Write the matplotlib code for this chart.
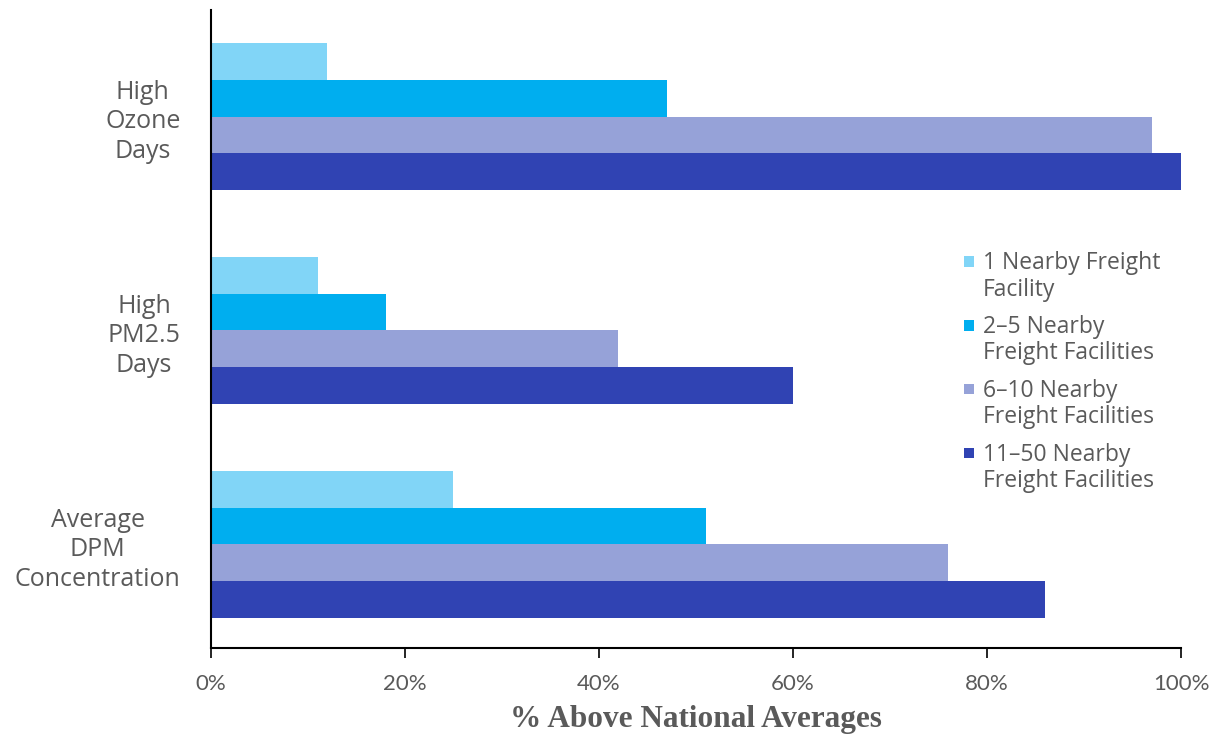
import numpy as np
import matplotlib
matplotlib.use('Agg')
from matplotlib import pyplot as plt
from matplotlib.patches import Rectangle
from matplotlib.container import BarContainer
from matplotlib.legend_handler import HandlerPatch
from matplotlib.ticker import FuncFormatter

categories = ['High\nOzone\nDays', 'High\nPM2.5\nDays', 'Average\nDPM\nConcentration']
series_labels = ['1 Nearby Freight\nFacility',
                 '2\u20135 Nearby\nFreight Facilities',
                 '6\u201310 Nearby\nFreight Facilities',
                 '11\u201350 Nearby\nFreight Facilities']
values = [
    [12, 11, 25],
    [47, 18, 51],
    [97, 42, 76],
    [100, 60, 86],
]
colors = ['#81d5f7', '#00aeef', '#96a2d8', '#3043b3']
x_ticks = [0, 20, 40, 60, 80, 100]

text_color = '#5a5a5a'
label_font = ['Open Sans', 'DejaVu Sans']
tick_font = ['Lato', 'DejaVu Sans']


def top_square(legend, orig_handle, xdescent, ydescent, width, height, fontsize):
    # small square lined up with the first line of a two-line label
    s = 7.5
    return Rectangle((width - s, height / 2 - s / 2 + 11.5), s, s)


def copy_colour(legend_handle, orig_handle):
    legend_handle.update_from(orig_handle[0])


fig = plt.figure(figsize=(12.24, 7.38), dpi=100)
ax = fig.add_axes([211 / 1224, 90 / 738, 970 / 1224, 638 / 738])

bar_h = 0.172
pos = np.arange(len(categories))
for i, (vals, col, lab) in enumerate(zip(values, colors, series_labels)):
    offset = (i - 1.5) * bar_h
    ax.barh(pos + offset, vals, height=bar_h, color=col, label=lab)

ax.set_xlim(0, 100)
ax.set_ylim(2.484, -0.498)
ax.set_yticks(pos)
ax.set_yticklabels(categories, fontsize=18, color=text_color, family=label_font,
                   multialignment='center', linespacing=1.25)
ax.tick_params(axis='y', length=0, pad=22)

ax.set_xticks(x_ticks)
ax.xaxis.set_major_formatter(FuncFormatter(lambda v, p: '%d%%' % v))
ax.tick_params(axis='x', direction='out', length=7, width=1.2, color='black',
               labelcolor=text_color, labelsize=16, pad=12)
for lbl in ax.get_xticklabels():
    lbl.set_family(tick_font)

for side in ['top', 'right']:
    ax.spines[side].set_visible(False)
for side in ['left', 'bottom']:
    ax.spines[side].set_color('black')
    ax.spines[side].set_linewidth(1.5)

ax.set_xlabel('% Above National Averages', fontsize=22.5, color=text_color,
              family=['Liberation Serif', 'DejaVu Serif'], fontweight='bold',
              labelpad=8)

handler = HandlerPatch(patch_func=top_square, update_func=copy_colour)
leg = ax.legend(loc='upper left', bbox_to_anchor=(0.75, 0.654), frameon=False,
                handlelength=0.65, handletextpad=0.4, labelspacing=0.6,
                prop={'family': label_font, 'size': 16.5},
                handler_map={BarContainer: handler})
for t in leg.get_texts():
    t.set_color(text_color)
    t.set_linespacing(1.12)

fig.savefig('out.png', dpi=100)
